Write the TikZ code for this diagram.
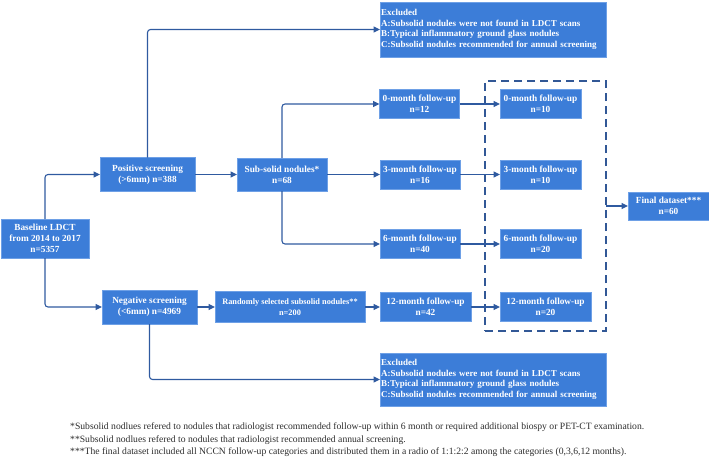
\documentclass[tikz,border=0pt]{standalone}
\usepackage{fontspec}
\setmainfont{Liberation Serif}
\usepackage{tikz}
\usetikzlibrary{arrows.meta}
\definecolor{boxblue}{RGB}{60,125,216}
\definecolor{boxedge}{RGB}{110,160,230}
\definecolor{lineblue}{RGB}{47,90,160}
\definecolor{dashblue}{RGB}{50,88,150}
\definecolor{notegray}{RGB}{45,45,45}
\tikzset{
	box/.style={rectangle,fill=boxblue,draw=boxedge,line width=0.4pt,text=white,align=center,inner sep=1pt,outer sep=0pt,font=\bfseries\fontsize{9.3}{11}\selectfont},
	exclbox/.style={box,align=left,text width=224pt,inner sep=1pt,minimum width=226pt,minimum height=55pt,font=\bfseries\fontsize{9}{10.7}\selectfont},
	directed/.style={draw=lineblue,line width=1.1pt,rounded corners=3pt,arrows={-Triangle[length=6.5pt,width=6pt]}},
	group/.style={draw=dashblue,line width=1.4pt,dash pattern=on 8pt off 5pt,outer sep=0pt,minimum width=121pt,minimum height=250pt,inner sep=0pt},
	footnote/.style={anchor=base west,inner sep=0pt,text=notegray,font=\fontsize{9.65}{11}\selectfont}
	}

\begin{document}
\begin{tikzpicture}[x=1pt,y=-1pt]
		\useasboundingbox (0,0) rectangle (709,458);
		\node[box,minimum width=88,minimum height=39] (base) at (45,238.5) {Baseline LDCT\\from 2014 to 2017\\n=5357};
		\node[box,minimum width=95,minimum height=34] (pos) at (147.5,174.5) {Positive screening\\(>6mm) n=388};
		\node[box,minimum width=95,minimum height=34] (neg) at (149.5,307) {Negative screening\\(<6mm) n=4969};
		\node[box,minimum width=90,minimum height=33] (sub) at (282,174.5) {Sub-solid nodules*\\n=68};
		\node[box,minimum width=150,minimum height=31,font=\bfseries\fontsize{8.3}{10.5}\selectfont] (rand) at (290,307) {Randomly selected subsolid nodules**\\n=200};
		\node[exclbox] (excla) at (493,29.5) {Excluded\\A:Subsolid nodules were not found in LDCT scans\\B:Typical inflammatory ground glass nodules\\C:Subsolid nodules recommended for annual screening};
		\node[exclbox,minimum height=53] (exclb) at (493,379.5) {Excluded\\A:Subsolid nodules were not found in LDCT scans\\B:Typical inflammatory ground glass nodules\\C:Subsolid nodules recommended for annual screening};
		% follow-up before selection
		\node[box,minimum width=80,minimum height=29] (fa0) at (419.5,104) {0-month follow-up\\n=12};
		\node[box,minimum width=80,minimum height=29] (fa3) at (420,174.5) {3-month follow-up\\n=16};
		\node[box,minimum width=80,minimum height=29] (fa6) at (420,244) {6-month follow-up\\n=40};
		\node[box,minimum width=91,minimum height=29] (fa12) at (425.5,307) {12-month follow-up\\n=42};
		% follow-up in the dataset
		\node[box,minimum width=81,minimum height=29] (fb0) at (540.5,104) {0-month follow-up\\n=10};
		\node[box,minimum width=81,minimum height=29] (fb3) at (540.5,174.5) {3-month follow-up\\n=10};
		\node[box,minimum width=81,minimum height=29] (fb6) at (540.5,244) {6-month follow-up\\n=20};
		\node[box,minimum width=91,minimum height=29] (fb12) at (545.5,307) {12-month follow-up\\n=20};
		\node[group] (grp) at (545.5,206) {};
		\node[box,minimum width=81,minimum height=28] (final) at (668.5,206) {Final dataset***\\n=60};

		\draw[directed] (base.north) |- (pos.west);
		\draw[directed] (base.south) |- (neg.west);
		\draw[directed] (pos.north) |- (excla.west);
		\draw[directed] (neg.south) |- (exclb.west);
		\draw[directed] (pos) -- (sub);
		\draw[directed] (sub.north) |- (fa0.west);
		\draw[directed] (sub) -- (fa3);
		\draw[directed] (sub.south) |- (fa6.west);
		\draw[directed] (neg) -- (rand);
		\draw[directed] (rand) -- (fa12);
		\draw[directed] (fa0) -- (fb0);
		\draw[directed] (fa3) -- (fb3);
		\draw[directed] (fa6) -- (fb6);
		\draw[directed] (fa12) -- (fb12);
		\draw[directed] (grp.east) -- (final.west);

		\node[footnote] (notea) at (70,429.5) {*Subsolid nodlues refered to nodules that radiologist recommended follow-up within 6 month or required additional biospy or PET-CT examination.};
		\node[footnote] (noteb) at (70,442) {**Subsolid nodlues refered to nodules that radiologist recommended annual screening.};
		\node[footnote] (notec) at (70,454.5) {***The final dataset included all NCCN follow-up categories and distributed them in a radio of 1:1:2:2 among the categories (0,3,6,12 months).};
	\end{tikzpicture}
\end{document}
